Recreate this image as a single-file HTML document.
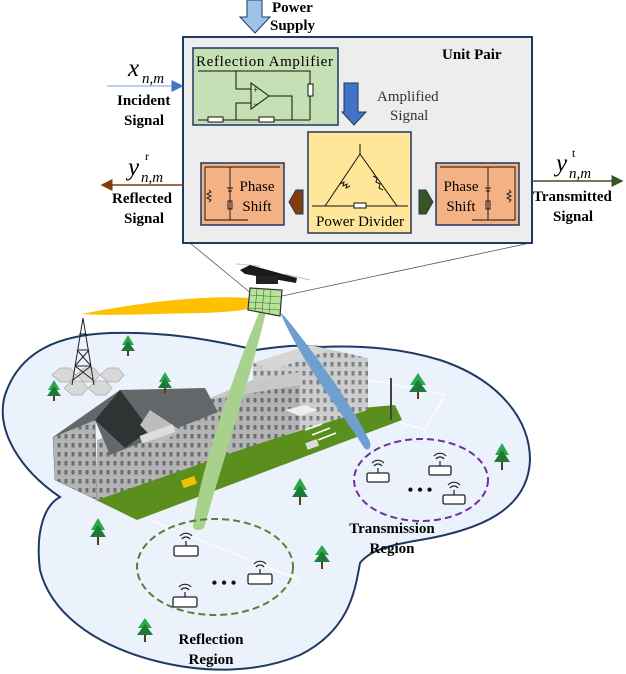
<!DOCTYPE html>
<html><head><meta charset="utf-8"><style>
html,body{margin:0;padding:0;background:#fff;}
svg{display:block;font-family:"Liberation Serif",serif;}
</style></head><body>
<svg width="626" height="674" viewBox="0 0 626 674" xmlns="http://www.w3.org/2000/svg">
<defs>
<marker id="ab" markerWidth="8" markerHeight="8" refX="7" refY="4" orient="auto"><path d="M0,0 L8,4 L0,8 z" fill="#4472c4"/></marker>
<marker id="ar" markerWidth="8" markerHeight="8" refX="7" refY="4" orient="auto"><path d="M0,0 L8,4 L0,8 z" fill="#843c0c"/></marker>
<marker id="ag" markerWidth="8" markerHeight="8" refX="7" refY="4" orient="auto"><path d="M0,0 L8,4 L0,8 z" fill="#375623"/></marker>
<pattern id="win" width="7" height="9" patternUnits="userSpaceOnUse"><rect width="7" height="9" fill="#b4b4b4"/><rect x="1.5" y="2" width="3" height="4.5" fill="#6a6e72"/></pattern>
<pattern id="win2" width="7" height="9" patternUnits="userSpaceOnUse"><rect width="7" height="9" fill="#cdcdcd"/><rect x="1.5" y="2" width="3" height="4.5" fill="#7c8084"/></pattern>
</defs>

<!-- ground blob -->
<path d="M60,497 C20,470 -5,430 5,395 C20,350 60,335 110,333 C160,332 200,337 256,350 C290,345 300,345 320,347 C360,345 400,348 440,360 C500,380 530,420 530,460 C528,510 480,530 420,540 C390,545 370,550 360,563 C355,590 350,630 300,655 C260,672 210,674 160,662 C90,645 50,610 40,570 C35,530 45,505 60,497 Z" fill="#ebf2fb" stroke="#1f3864" stroke-width="2"/>
<path d="M150,520 C200,540 250,560 300,580 M370,380 L445,395 L425,430 L360,410 Z" stroke="#fff" stroke-width="1.2" fill="none"/>

<!-- connecting lines -->
<line x1="190" y1="243" x2="252" y2="294" stroke="#555" stroke-width="0.8"/>
<line x1="530" y1="243" x2="282" y2="296" stroke="#555" stroke-width="0.8"/>

<!-- lawn -->
<polygon points="96,500 137,520 402,420 395,405 340,410" fill="#5a8f1e"/>
<!-- building -->
<polygon points="253,363 310,345 368,358 368,410 253,445" fill="url(#win2)"/>
<polygon points="253,363 310,345 330,350 272,370" fill="#d6d6d6"/>
<polygon points="97,440 205,400 300,380 300,430 240,450 97,500" fill="url(#win)"/>
<polygon points="205,400 253,380 300,372 300,385 240,395" fill="#c8c8c8"/>
<polygon points="53,437 95,420 97,500 55,480" fill="url(#win)" stroke="#777" stroke-width="0.5"/>
<polygon points="53,437 120,390 205,388 218,412 110,455 95,420" fill="#62676a"/>
<polygon points="95,420 120,390 150,430 125,448" fill="#2f3333"/>
<polygon points="140,425 150,410 180,430 160,445" fill="#bdbdbd"/>
<rect x="140" y="430" width="35" height="8" fill="#ddd" transform="rotate(-20 157 434)"/>
<polygon points="285,410 305,405 318,410 300,416" fill="#eee"/>
<rect x="182" y="478" width="14" height="8" fill="#f2c200" transform="rotate(-20 189 482)"/>
<rect x="306" y="441" width="12" height="7" fill="#ddd" transform="rotate(-20 312 444)"/>
<g stroke="#fff" stroke-width="1.5"><line x1="305" y1="430" x2="322" y2="424"/><line x1="312" y1="435" x2="330" y2="428"/><line x1="318" y1="440" x2="336" y2="433"/></g>

<!-- tower -->
<g fill="#d8d8d8" stroke="#aaa" stroke-width="0.7">
<polygon points="52,375 60,368 70,368 76,375 70,382 60,382"/>
<polygon points="76,375 84,368 94,368 100,375 94,382 84,382"/>
<polygon points="100,375 108,368 118,368 124,375 118,382 108,382"/>
<polygon points="64,388 72,381 82,381 88,388 82,395 72,395"/>
<polygon points="88,388 96,381 106,381 112,388 106,395 96,395"/>
</g>
<g stroke="#222" stroke-width="1" fill="none"><path d="M83,318 L72,385 M83,318 L94,385 M77,350 L89,350 M75,366 L91,366 M79,334 L87,334 M75,366 L89,350 M91,366 L77,350 M73,380 L91,366 M93,380 L75,366"/></g>
<line x1="391" y1="378" x2="391" y2="420" stroke="#444" stroke-width="2"/>

<!-- trees -->
<g>
<g transform="translate(128,345)"><polygon points="0,-10 -6,0 6,0" fill="#2aa84a"/><polygon points="0,-4 -7,6 7,6" fill="#1e7a38"/><rect x="-1" y="6" width="2" height="5" fill="#5a3a1a"/></g>
<g transform="translate(165,382)"><polygon points="0,-10 -6,0 6,0" fill="#2aa84a"/><polygon points="0,-4 -7,6 7,6" fill="#1e7a38"/><rect x="-1" y="6" width="2" height="5" fill="#5a3a1a"/></g>
<g transform="translate(54,390)"><polygon points="0,-10 -6,0 6,0" fill="#2aa84a"/><polygon points="0,-4 -7,6 7,6" fill="#1e7a38"/><rect x="-1" y="6" width="2" height="5" fill="#5a3a1a"/></g>
<g transform="translate(418,385)"><polygon points="0,-12 -8,0 8,0" fill="#2aa84a"/><polygon points="0,-5 -9,7 9,7" fill="#1e7a38"/><rect x="-1" y="7" width="2" height="7" fill="#5a3a1a"/></g>
<g transform="translate(502,455)"><polygon points="0,-12 -7,0 7,0" fill="#2aa84a"/><polygon points="0,-5 -8,7 8,7" fill="#1e7a38"/><rect x="-1" y="7" width="2" height="8" fill="#5a3a1a"/></g>
<g transform="translate(300,490)"><polygon points="0,-12 -7,0 7,0" fill="#2aa84a"/><polygon points="0,-5 -8,7 8,7" fill="#1e7a38"/><rect x="-1" y="7" width="2" height="8" fill="#5a3a1a"/></g>
<g transform="translate(98,530)"><polygon points="0,-12 -7,0 7,0" fill="#2aa84a"/><polygon points="0,-5 -8,7 8,7" fill="#1e7a38"/><rect x="-1" y="7" width="2" height="8" fill="#5a3a1a"/></g>
<g transform="translate(322,555)"><polygon points="0,-10 -7,0 7,0" fill="#2aa84a"/><polygon points="0,-4 -8,7 8,7" fill="#1e7a38"/><rect x="-1" y="7" width="2" height="7" fill="#5a3a1a"/></g>
<g transform="translate(145,628)"><polygon points="0,-10 -7,0 7,0" fill="#2aa84a"/><polygon points="0,-4 -8,7 8,7" fill="#1e7a38"/><rect x="-1" y="7" width="2" height="7" fill="#5a3a1a"/></g>
</g>

<!-- beams -->
<path d="M82,314 C150,300 230,293 262,300 C266,308 240,312 200,313 C150,314 100,316 82,314 Z" fill="#ffc000"/>
<path d="M262,305 L266,312 C250,380 220,470 204,528 C198,532 192,530 193,524 C205,450 240,360 262,305 Z" fill="#a9d18e"/>
<path d="M280,312 L286,318 C320,360 355,410 370,442 C372,450 366,452 363,446 C340,410 300,360 280,312 Z" fill="#6f9fcf"/>

<!-- drone -->
<g>
<line x1="236" y1="264" x2="260" y2="266" stroke="#ccc" stroke-width="1.2"/>
<line x1="285" y1="274" x2="310" y2="280" stroke="#ccc" stroke-width="1.2"/>
<polygon points="240,270 250,265 297,278 296,283 245,274" fill="#1a1a1a"/>
<rect x="256" y="276" width="22" height="8" fill="#222"/>
<polygon points="250,288 282,290 280,316 248,310" fill="#b6e39a" stroke="#333" stroke-width="1.2"/>
<g stroke="#4a6a30" stroke-width="0.6"><line x1="257" y1="289" x2="255" y2="311"/><line x1="264" y1="289" x2="262" y2="313"/><line x1="271" y1="290" x2="269" y2="314"/><line x1="249" y1="295" x2="281" y2="297"/><line x1="249" y1="302" x2="281" y2="304"/><line x1="248" y1="308" x2="280" y2="310"/></g>
</g>

<!-- regions -->
<ellipse cx="421" cy="480" rx="67" ry="41" fill="none" stroke="#7030a0" stroke-width="2" stroke-dasharray="7,4"/>
<ellipse cx="215" cy="567" rx="78" ry="48" fill="none" stroke="#548235" stroke-width="2" stroke-dasharray="7,4"/>
<g fill="#fff" stroke="#222" stroke-width="1.3">
<rect x="367" y="473" width="22" height="9" rx="1.5"/><rect x="429" y="466" width="22" height="9" rx="1.5"/><rect x="443" y="495" width="22" height="9" rx="1.5"/>
<rect x="174" y="546" width="24" height="10" rx="1.5"/><rect x="248" y="574" width="24" height="10" rx="1.5"/><rect x="173" y="597" width="24" height="10" rx="1.5"/>
</g>
<g stroke="#222" stroke-width="1.2" fill="none">
<path d="M378,473 v-5 M374,466 a5,5 0 0 1 8,0 M372,463 a8,8 0 0 1 12,0"/>
<path d="M440,466 v-5 M436,459 a5,5 0 0 1 8,0 M434,456 a8,8 0 0 1 12,0"/>
<path d="M454,495 v-5 M450,488 a5,5 0 0 1 8,0 M448,485 a8,8 0 0 1 12,0"/>
<path d="M186,546 v-5 M182,539 a5,5 0 0 1 8,0 M180,536 a8,8 0 0 1 12,0"/>
<path d="M260,574 v-5 M256,567 a5,5 0 0 1 8,0 M254,564 a8,8 0 0 1 12,0"/>
<path d="M185,597 v-5 M181,590 a5,5 0 0 1 8,0 M179,587 a8,8 0 0 1 12,0"/>
</g>
<text x="420" y="495" font-size="16" font-weight="bold" text-anchor="middle" fill="#111">• • •</text>
<text x="224" y="588" font-size="16" font-weight="bold" text-anchor="middle" fill="#111">• • •</text>
<text x="392" y="533" font-size="15" font-weight="bold" text-anchor="middle">Transmission</text>
<text x="392" y="553" font-size="15" font-weight="bold" text-anchor="middle">Region</text>
<text x="211" y="644" font-size="15" font-weight="bold" text-anchor="middle">Reflection</text>
<text x="211" y="664" font-size="15" font-weight="bold" text-anchor="middle">Region</text>

<!-- power supply arrow -->
<polygon points="247,0 262,0 262,17 270,17 255,33 240,17 247,17" fill="#9dc3e6" stroke="#1f3864" stroke-width="1"/>
<text x="272" y="12" font-size="15" font-weight="bold">Power</text>
<text x="270" y="30" font-size="15" font-weight="bold">Supply</text>

<!-- main box -->
<rect x="183" y="37" width="349" height="206" fill="#ededed" stroke="#1f3864" stroke-width="2"/>
<text x="442" y="59" font-size="15" font-weight="bold">Unit Pair</text>

<!-- reflection amplifier -->
<rect x="193" y="48" width="145" height="77" fill="#c5e0b4" stroke="#1f3864" stroke-width="1.5"/>
<text x="196" y="66" font-size="15" textLength="137">Reflection Amplifier</text>
<g stroke="#111" stroke-width="1" fill="none">
<path d="M198,71 H310 V84 M310,96 V120 M198,120 H310 M236,71 V89 H251 M236,120 V103 H251 M269,96 H292 V120"/>
<polygon points="251,83 251,109 269,96"/>
<rect x="308" y="84" width="5" height="12" fill="#fff"/>
<rect x="208" y="117" width="15" height="5" fill="#fff"/><rect x="259" y="117" width="15" height="5" fill="#fff"/>
</g>
<text x="253" y="93" font-size="9">+</text><text x="253" y="107" font-size="9">−</text>

<!-- amplified arrow -->
<polygon points="344,83 358,83 358,112 366,112 354,125 342,112 344,112" fill="#4472c4" stroke="#1f3864" stroke-width="1"/>
<text x="377" y="101" font-size="15" fill="#333">Amplified</text>
<text x="390" y="120" font-size="15" fill="#333">Signal</text>

<!-- power divider -->
<rect x="308" y="132" width="103" height="101" fill="#ffe699" stroke="#1f3864" stroke-width="1.5"/>
<g stroke="#111" stroke-width="1" fill="none">
<path d="M360,144 V154 L325,206 M360,154 L397,206 M312,206 H408"/>
<path d="M340,184 l4,-2 -1,4 4,-2 -1,4 4,-2" /><path d="M373,176 l4,2 -1,4 4,2 -1,4 4,2"/>
<rect x="354" y="203" width="12" height="5" fill="#fff"/>
</g>
<text x="360" y="226" font-size="15" text-anchor="middle">Power Divider</text>

<!-- phase shifts -->
<rect x="201" y="163" width="83" height="62" fill="#f4b183" stroke="#1f3864" stroke-width="1.5"/>
<g stroke="#111" stroke-width="0.9" fill="none"><path d="M205,167 H280 M205,167 V220 H248 M230,167 V220 M230,183 v5 M227,188 h6 M228,191 h4 M230,191 v10 M230,209 v11"/><rect x="228" y="201" width="4" height="8"/><path d="M209,190 l2,2 -4,2 4,2 -4,2 4,2 -2,2"/></g>
<text x="257" y="191" font-size="15" text-anchor="middle">Phase</text>
<text x="257" y="211" font-size="15" text-anchor="middle">Shift</text>
<rect x="436" y="163" width="83" height="62" fill="#f4b183" stroke="#1f3864" stroke-width="1.5"/>
<g stroke="#111" stroke-width="0.9" fill="none"><path d="M440,167 H515 V220 H472 M488,167 V220 M488,183 v5 M485,188 h6 M486,191 h4 M488,191 v10 M488,209 v11"/><rect x="486" y="201" width="4" height="8"/><path d="M509,190 l2,2 -4,2 4,2 -4,2 4,2 -2,2"/></g>
<text x="461" y="191" font-size="15" text-anchor="middle">Phase</text>
<text x="461" y="211" font-size="15" text-anchor="middle">Shift</text>

<polygon points="303,190 303,214 296,214 289,202 296,190" fill="#843c0c" stroke="#1f3864" stroke-width="1"/>
<polygon points="419,190 419,214 426,214 433,202 426,190" fill="#375623" stroke="#1f3864" stroke-width="1"/>

<!-- signals -->
<line x1="107" y1="86" x2="182" y2="86" stroke="#9dc3e6" stroke-width="1.5" marker-end="url(#ab)"/>
<text x="128" y="76" font-size="25" font-style="italic">x</text><text x="142" y="83" font-size="15" font-style="italic">n,m</text>
<text x="117" y="105" font-size="15" font-weight="bold">Incident</text>
<text x="124" y="125" font-size="15" font-weight="bold">Signal</text>

<line x1="183" y1="185" x2="102" y2="185" stroke="#843c0c" stroke-width="1.5" marker-end="url(#ar)"/>
<text x="128" y="175" font-size="25" font-style="italic">y</text><text x="141" y="182" font-size="15" font-style="italic">n,m</text><text x="145" y="160" font-size="12">r</text>
<text x="112" y="203" font-size="15" font-weight="bold">Reflected</text>
<text x="124" y="223" font-size="15" font-weight="bold">Signal</text>

<line x1="532" y1="181" x2="622" y2="181" stroke="#375623" stroke-width="1.5" marker-end="url(#ag)"/>
<text x="556" y="171" font-size="25" font-style="italic">y</text><text x="569" y="178" font-size="15" font-style="italic">n,m</text><text x="572" y="157" font-size="12">t</text>
<text x="533" y="201" font-size="15" font-weight="bold">Transmitted</text>
<text x="553" y="221" font-size="15" font-weight="bold">Signal</text>
</svg>
</body></html>
